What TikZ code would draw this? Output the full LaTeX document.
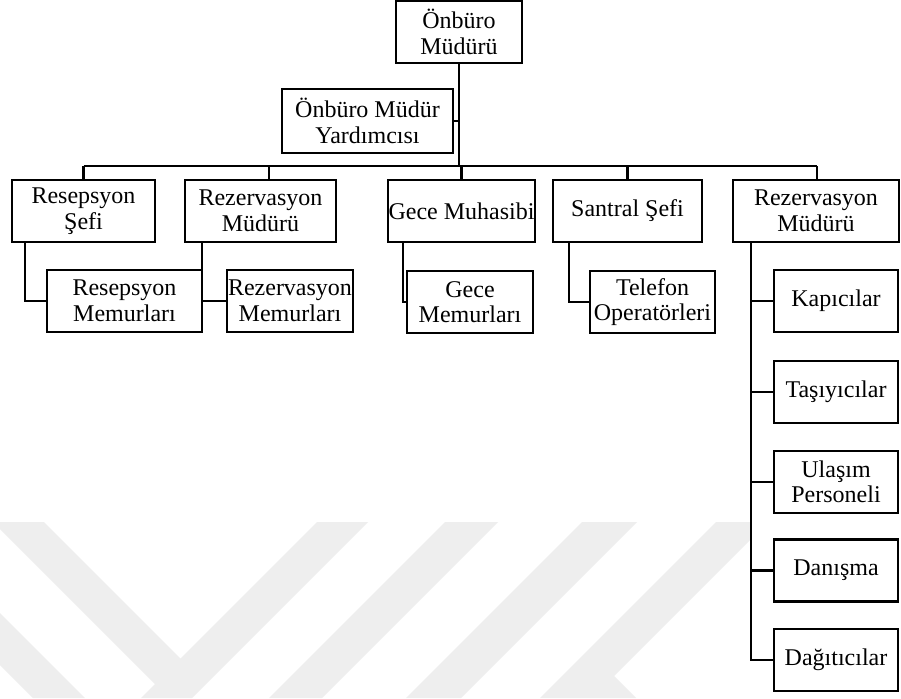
\documentclass[tikz,border=0pt]{standalone}
\usepackage{fontspec}
\setmainfont{Liberation Serif}
\definecolor{wm}{HTML}{EEEEEE}
\begin{document}
\begin{tikzpicture}[x=1pt,y=-1pt,
  box/.style={draw, line width=2.3pt, fill=white, inner sep=0pt, align=center,
    font=\fontsize{24}{25.5}\selectfont, minimum height=62pt},
  link/.style={line width=2.8pt}]
\useasboundingbox[fill=white] (0,0) rectangle (901,698);
% watermark
\begin{scope}
  \clip (0,0) rectangle (750,698);
  \fill[wm] (-7,522) -- (44,522) -- (180.5,658.5) -- (317,522) -- (368,522) -- (192,698) -- (141,698) -- (155,684) -- cycle;
  \fill[wm] (0,613) -- (85,698) -- (33,698) -- (0,665) -- cycle;
  \fill[wm] (445,522) -- (498,522) -- (322,698) -- (269,698) -- cycle;
  \fill[wm] (582,522) -- (637,522) -- (461,698) -- (406,698) -- cycle;
  \fill[wm] (716,522) -- (768,522) -- (614,676) -- (636,698) -- (540,698) -- cycle;
\end{scope}
% nodes
\node[box, minimum width=126pt] (top) at (459,32) {Önbüro\\Müdürü};
\node[box, minimum width=171pt, minimum height=64pt] (asst) at (367.5,121) {Önbüro Müdür\\Yardımcısı};
\node[box, minimum width=143pt] (resS) at (83.5,211) {Resepsyon\\Şefi};
\node[box, minimum width=151pt] (rezM) at (260.5,211) {Rezervasyon\\Müdürü};
\node[box, minimum width=147pt] (gece) at (461.5,211) {Gece Muhasibi};
\node[box, minimum width=149pt] (santral) at (627.5,211) {Santral Şefi};
\node[box, minimum width=166pt] (rezM2) at (816,211) {Rezervasyon\\Müdürü};
\node[box, minimum width=155pt] (resMem) at (124.5,301) {Resepsyon\\Memurları};
\node[box, minimum width=126pt] (rezMem) at (290,301) {Rezervasyon\\Memurları};
\node[box, minimum width=126pt] (geceMem) at (470,302) {Gece\\Memurları};
\node[box, minimum width=125pt] (tel) at (652.5,302) {Telefon\\Operatörleri};
\node[box, minimum width=124pt] (kap) at (836,301) {Kapıcılar};
\node[box, minimum width=124pt] (tas) at (836,392) {Taşıyıcılar};
\node[box, minimum width=124pt] (ula) at (836,482) {Ulaşım\\Personeli};
\node[box, minimum width=124pt] (dan) at (836,570.5) {Danışma};
\node[box, minimum width=124pt] (dag) at (836,660) {Dağıtıcılar};
% connectors
\coordinate (busL) at (83.5,166);
\coordinate (busR) at (817,166);
\draw[link] (top.south) -- (top.south |- busL);
\draw[link] (asst.east) -- (asst.east -| top.south);
\draw[link] (busL) -- (busR);
\draw[link] (resS.north) -- (resS.north |- busL);
\draw[link] ([xshift=8.5pt]rezM.north) -- ([xshift=8.5pt]rezM.north |- busL);
\draw[link] (gece.north) -- (gece.north |- busL);
\draw[link] (santral.north) -- (santral.north |- busL);
\draw[link] (busR) -- (busR |- rezM2.north);
\draw[link] ([xshift=-58.5pt]resS.south) |- (resMem.west);
\draw[link] ([xshift=-58.5pt]rezM.south) |- (rezMem.west);
\draw[link] ([xshift=-58.5pt]gece.south) |- (geceMem.west);
\draw[link] ([xshift=-58.5pt]santral.south) |- (tel.west);
\coordinate (trunk) at ([xshift=-65pt]rezM2.south);
\draw[link] (trunk) |- (dag.west);
\draw[link] (kap.west) -- (kap.west -| trunk);
\draw[link] (tas.west) -- (tas.west -| trunk);
\draw[link] (ula.west) -- (ula.west -| trunk);
\draw[link] (dan.west) -- (dan.west -| trunk);
\end{tikzpicture}
\end{document}
